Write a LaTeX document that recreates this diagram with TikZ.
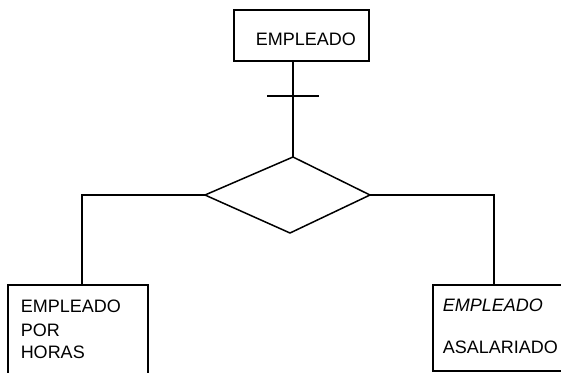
\documentclass[tikz,border=0pt]{standalone}
\usepackage{fontspec}
\setmainfont{Liberation Sans}
\begin{document}
\begin{tikzpicture}[x=1pt,y=-1pt,
  line width=1.5pt,
  entbox/.style={draw,rectangle,inner sep=0pt,anchor=north west},
  lbl/.style={anchor=base west,inner sep=0pt,font=\fontsize{18}{20}\selectfont}]
\useasboundingbox (0,0) rectangle (561,372);
\begin{scope}
\clip (0,0) rectangle (561,372);
% boxes
\node[entbox,minimum width=135pt,minimum height=51pt] (emp) at (233,9) {};
\node[lbl] (tEmp) at (255,45) {EMPLEADO};
\coordinate (rN) at (293,157);
\coordinate (rW) at (205,195);
\coordinate (rE) at (370,195);
\coordinate (rS) at (290,233);
\draw[line join=miter] (rN) -- (rE) -- (rS) -- (rW) -- cycle;
\node[entbox,minimum width=140pt,minimum height=95pt] (hor) at (7,284) {};
\node[lbl] (tH1) at (20,312) {EMPLEADO};
\node[lbl] (tH2) at (20,336) {POR};
\node[lbl] (tH3) at (20,358) {HORAS};
\node[entbox,minimum width=150pt,minimum height=86pt] (asa) at (432,284) {};
\node[lbl,font=\fontsize{18}{20}\selectfont\itshape] (tA1) at (442,311) {EMPLEADO};
\node[lbl] (tA2) at (442,353) {ASALARIADO};
% connectors
\coordinate (tk) at (293,96);
\draw (emp.south -| rN) -- (rN);
\draw ([xshift=-26pt]tk) -- ([xshift=26pt]tk);
\draw (rW) -| (hor.north -| 82,0);
\draw (rE) -| (asa.north -| 494,0);
\end{scope}
\end{tikzpicture}
\end{document}
